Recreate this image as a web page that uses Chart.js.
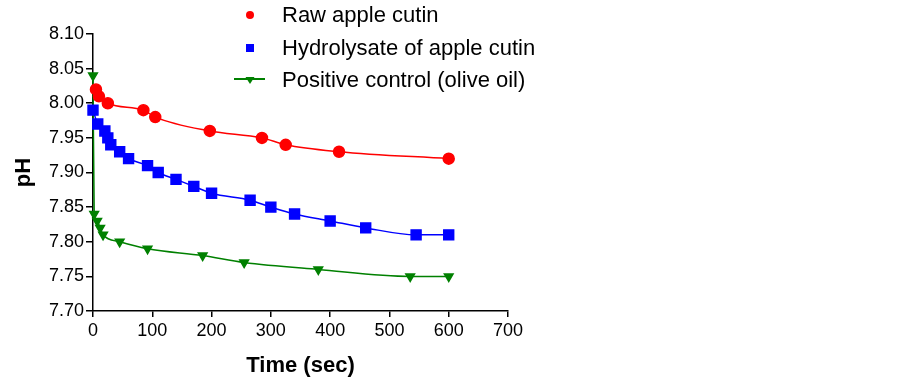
<!DOCTYPE html>
<html>
<head>
<meta charset="utf-8">
<script src="https://cdn.jsdelivr.net/npm/chart.js@4/dist/chart.umd.min.js"></script>
<style>
  html, body { margin: 0; padding: 0; background: #fff; }
  #wrap { width: 902px; height: 383px; }
</style>
</head>
<body>
<div id="wrap"><canvas id="phChart" width="902" height="383"></canvas></div>
<script>
// Dữ liệu
const rawTimes = [5, 10, 25, 85, 105, 197, 285, 325, 415, 600];
const rawPH = [8.02, 8.01, 8.00, 7.99, 7.98, 7.96, 7.95, 7.94, 7.93, 7.92];

const hydTimes = [0, 8, 20, 25, 30, 45, 60, 92, 110, 140, 170, 200, 265, 300, 340, 400, 460, 545, 600];
const hydPH = [7.99, 7.97, 7.96, 7.95, 7.94, 7.93, 7.92, 7.91, 7.90, 7.89, 7.88, 7.87, 7.86, 7.85, 7.84, 7.83, 7.82, 7.81, 7.81];

const oilTimes = [0, 2, 7, 12, 17, 45, 92, 185, 255, 380, 535, 600];
const oilPH = [8.04, 7.84, 7.83, 7.82, 7.81, 7.80, 7.79, 7.78, 7.77, 7.76, 7.75, 7.75];

const seriesLabels = ['Raw apple cutin', 'Hydrolysate of apple cutin', 'Positive control (olive oil)'];
const xTicks = [0, 100, 200, 300, 400, 500, 600, 700];
const yTicks = [7.70, 7.75, 7.80, 7.85, 7.90, 7.95, 8.00, 8.05, 8.10];

const FONT = '"Liberation Sans", Arial, sans-serif';

function toPoints(xs, ys) {
    return xs.map((x, i) => ({ x: x, y: ys[i] }));
}

// Chú thích vẽ tay (chỉ dòng xanh lá có đoạn thẳng)
const customLegend = {
    id: 'customLegend',
    afterDraw(chart) {
        const ctx = chart.ctx;
        const rows = [
            { y: 15, color: 'red', style: 'circle', line: false },
            { y: 48, color: 'blue', style: 'rect', line: false },
            { y: 80, color: 'green', style: 'triangle', line: true }
        ];
        ctx.save();
        rows.forEach((r, i) => {
            const mx = 250;
            ctx.fillStyle = r.color;
            ctx.strokeStyle = r.color;
            if (r.line) {
                ctx.lineWidth = 2;
                ctx.beginPath();
                ctx.moveTo(234, r.y - 1);
                ctx.lineTo(265, r.y - 1);
                ctx.stroke();
            }
            ctx.beginPath();
            if (r.style === 'circle') {
                ctx.arc(mx, r.y, 4, 0, Math.PI * 2);
            } else if (r.style === 'rect') {
                ctx.rect(mx - 4, r.y - 4, 8, 8);
            } else {
                ctx.moveTo(mx - 4.5, r.y - 3);
                ctx.lineTo(mx + 4.5, r.y - 3);
                ctx.lineTo(mx, r.y + 4);
                ctx.closePath();
            }
            ctx.fill();
            ctx.fillStyle = '#000';
            ctx.font = '22px ' + FONT;
            ctx.textBaseline = 'middle';
            ctx.fillText(seriesLabels[i], 282, r.y + 1);
        });
        ctx.restore();
    }
};

const ctx = document.getElementById('phChart').getContext('2d');
new Chart(ctx, {
    type: 'line',
    data: {
        datasets: [
            {
                label: seriesLabels[0],
                data: toPoints(rawTimes, rawPH),
                borderColor: 'red',
                backgroundColor: 'red',
                borderWidth: 1.5,
                pointStyle: 'circle',
                pointRadius: 5.5,
                cubicInterpolationMode: 'monotone',
                clip: false
            },
            {
                label: seriesLabels[1],
                data: toPoints(hydTimes, hydPH),
                borderColor: 'blue',
                backgroundColor: 'blue',
                borderWidth: 1.5,
                pointStyle: 'rect',
                pointRadius: 7,
                cubicInterpolationMode: 'monotone',
                clip: false
            },
            {
                label: seriesLabels[2],
                data: toPoints(oilTimes, oilPH),
                borderColor: 'green',
                backgroundColor: 'green',
                borderWidth: 1.5,
                pointStyle: 'triangle',
                pointRotation: 180,
                pointRadius: 5,
                cubicInterpolationMode: 'monotone',
                clip: false
            }
        ]
    },
    options: {
        responsive: false,
        animation: false,
        layout: { padding: { left: 7, right: 394, top: 34, bottom: 0 } },
        plugins: {
            legend: { display: false },
            tooltip: { enabled: false }
        },
        scales: {
            x: {
                type: 'linear',
                min: 0,
                max: 700,
                afterBuildTicks: (axis) => { axis.ticks = xTicks.map(v => ({ value: v })); },
                afterFit: (axis) => { axis.height = 72; },
                grid: { drawOnChartArea: false, drawTicks: true, tickLength: 6, color: '#000', lineWidth: 1.5 },
                border: { display: true, color: '#000', width: 1.5 },
                ticks: { color: '#000', font: { family: FONT, size: 18 }, padding: 3, maxRotation: 0 },
                title: { display: true, text: 'Time (sec)', color: '#000', font: { family: FONT, size: 22, weight: 'bold' }, padding: { top: 8 } }
            },
            y: {
                min: 7.70,
                max: 8.10,
                afterBuildTicks: (axis) => { axis.ticks = yTicks.map(v => ({ value: v })); },
                afterFit: (axis) => { axis.width = 86; },
                grid: { drawOnChartArea: false, drawTicks: true, tickLength: 7, color: '#000', lineWidth: 1.5 },
                border: { display: true, color: '#000', width: 1.5 },
                ticks: {
                    color: '#000',
                    font: { family: FONT, size: 18 },
                    padding: 2,
                    callback: (v) => Number(v).toFixed(2)
                },
                title: { display: true, text: 'pH', color: '#000', font: { family: FONT, size: 22, weight: 'bold' }, padding: { bottom: 0 } }
            }
        }
    },
    plugins: [customLegend]
});
</script>
</body>
</html>
